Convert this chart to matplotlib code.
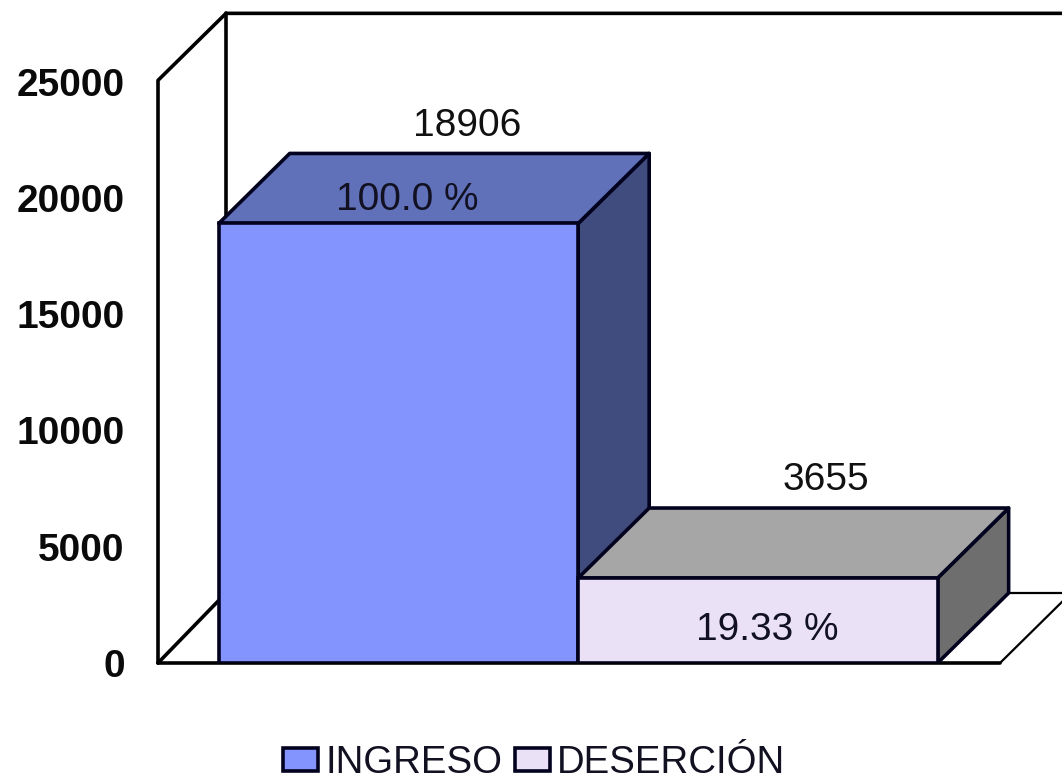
import matplotlib
matplotlib.use("Agg")
import matplotlib.pyplot as plt
from matplotlib.patches import Polygon, Patch

categories = ["INGRESO", "DESERCIÓN"]
values = [18906, 3655]
percent_labels = ["100.0 %", "19.33 %"]
y_ticks = [0, 5000, 10000, 15000, 20000, 25000]

front_colors = ["#8494FF", "#EBE1F6"]
top_colors = ["#6070B9", "#A6A6A6"]
side_colors = ["#414C7E", "#6E6E6E"]
EDGE = "#02021E"
LW = 2.6

W, H = 1062, 781
plt.rcParams["font.family"] = ["Liberation Sans", "DejaVu Sans"]
fig = plt.figure(figsize=(W / 100, H / 100), dpi=100, facecolor="white")
ax = fig.add_axes([158 / W, (H - 663) / H, 913 / W, 651 / H])
ax.set_xlim(-0.669, 1.871)
ax.set_ylim(0, 28000)
ax.patch.set_visible(False)
for s in ax.spines.values():
    s.set_visible(False)
ax.set_xticks([])
ax.set_yticks(y_ticks)
ax.tick_params(axis="y", length=0, pad=24)
for t in ax.get_yticklabels():
    t.set_fontsize(28)
    t.set_fontweight("bold")
    t.set_color("#0A0A0A")
    t.set_verticalalignment("center_baseline")

DX, DY = 71 / 359.5, 70 / 0.02325
WALL_DX, WALL_DY = 68 / 359.5, 67 / 0.02325
BAR_W = 1.0
x0, x1 = ax.get_xlim()
top = y_ticks[-1] + 60

# walls and floor
wall = dict(color="black", lw=LW, zorder=1, clip_on=False, solid_capstyle="round", solid_joinstyle="round")
thin = dict(wall, lw=1.6)
ax.plot([x0, x0, x0 + WALL_DX, x1], [0, top, top + WALL_DY, top + WALL_DY], **wall)
ax.plot([x0 + WALL_DX, x0 + WALL_DX], [DY, top + WALL_DY], **wall)
ax.plot([x0, x1 - DX], [0, 0], **wall)
ax.plot([x0, x0 + WALL_DX], [0, DY], **wall)
ax.plot([x0 + WALL_DX, x1], [DY, DY], **thin)
ax.plot([x1 - DX, x1], [0, DY], **thin)

# depth faces
for i, v in enumerate(values):
    l, r = i - BAR_W / 2, i + BAR_W / 2
    ax.add_patch(Polygon([(r, 0), (r + DX, DY), (r + DX, v + DY), (r, v)], closed=True,
                         fc=side_colors[i], ec=EDGE, lw=LW, zorder=2 + i, joinstyle="round"))
    ax.add_patch(Polygon([(l, v), (l + DX, v + DY), (r + DX, v + DY), (r, v)], closed=True,
                         fc=top_colors[i], ec=EDGE, lw=LW, zorder=2 + i, joinstyle="round"))

bars = ax.bar(range(len(values)), values, width=BAR_W, color=front_colors,
              edgecolor=EDGE, linewidth=LW, zorder=5)

# labels
pct_offsets = [1010, -2230]
for i, v in enumerate(values):
    ax.text(i + 0.19, v + 4210, str(v), ha="center", va="center", fontsize=28,
            color="#111111", zorder=6)
    ax.text(i + 0.025, v + pct_offsets[i], percent_labels[i], ha="center", va="center",
            fontsize=28, color="#111122", zorder=6)

# legend
handles = [Patch(fc=c, ec=EDGE, lw=LW) for c in front_colors]
leg = fig.legend(handles, categories, loc="center", bbox_to_anchor=(534 / W, (H - 763) / H),
                 ncol=2, frameon=False, fontsize=27.6, labelcolor="#111122",
                 handlelength=0.92, handleheight=0.55, handletextpad=0.18, columnspacing=0.33,
                 borderpad=0, borderaxespad=0)

fig.savefig("out.png", dpi=100, facecolor="white")
